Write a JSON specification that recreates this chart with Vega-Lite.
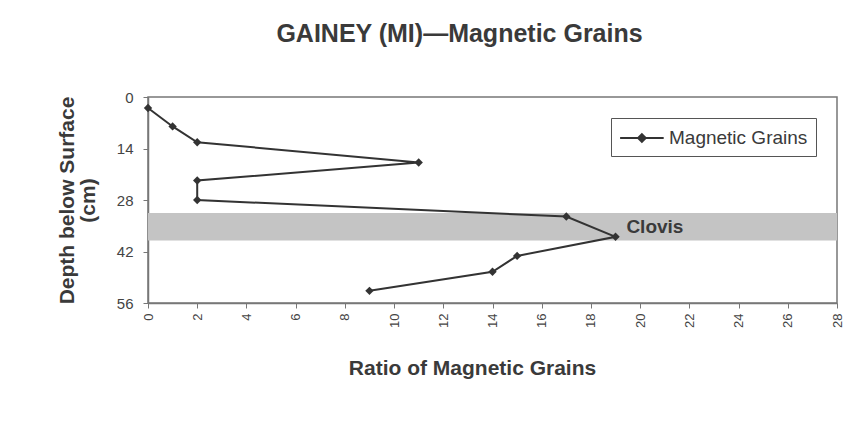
{
  "$schema": "https://vega.github.io/schema/vega-lite/v6.json",
  "width": 689,
  "height": 206,
  "autosize": {"type": "none"},
  "padding": {"left": 148, "top": 97, "right": 17, "bottom": 127},
  "background": "white",
  "title": {
    "text": "GAINEY (MI)\u2014Magnetic Grains",
    "font": "Liberation Sans",
    "fontSize": 25,
    "fontWeight": "bold",
    "color": "#3a3a3a",
    "anchor": "middle",
    "dx": -33,
    "offset": 43
  },
  "config": {
    "view": {"stroke": "#777", "strokeWidth": 1.5},
    "font": "Liberation Sans",
    "axis": {
      "grid": false,
      "domainColor": "#777",
      "tickColor": "#777",
      "labelColor": "#444",
      "titleColor": "#3a3a3a",
      "labelFont": "Liberation Sans",
      "titleFont": "Liberation Sans",
      "labelFontSize": 14,
      "titleFontSize": 21,
      "titleFontWeight": "bold",
      "tickSize": 5,
      "domainWidth": 1.5
    }
  },
  "datasets": {
    "grains": [
      {"order": 1, "ratio": 0, "depth": 3, "series": "Magnetic Grains"},
      {"order": 2, "ratio": 1, "depth": 8, "series": "Magnetic Grains"},
      {"order": 3, "ratio": 2, "depth": 12.3, "series": "Magnetic Grains"},
      {"order": 4, "ratio": 11, "depth": 17.8, "series": "Magnetic Grains"},
      {"order": 5, "ratio": 2, "depth": 22.7, "series": "Magnetic Grains"},
      {"order": 6, "ratio": 2, "depth": 28, "series": "Magnetic Grains"},
      {"order": 7, "ratio": 17, "depth": 32.5, "series": "Magnetic Grains"},
      {"order": 8, "ratio": 19, "depth": 38, "series": "Magnetic Grains"},
      {"order": 9, "ratio": 15, "depth": 43.2, "series": "Magnetic Grains"},
      {"order": 10, "ratio": 14, "depth": 47.5, "series": "Magnetic Grains"},
      {"order": 11, "ratio": 9, "depth": 52.7, "series": "Magnetic Grains"}
    ],
    "band": [
      {"x0": 0, "x1": 28, "top": 31.5, "bottom": 39, "label": "Clovis", "lx": 20.6, "ly": 35.3}
    ]
  },
  "layer": [
    {
      "data": {"name": "band"},
      "mark": {"type": "rect", "color": "#c4c4c4", "opacity": 1},
      "encoding": {
        "x": {"field": "x0", "type": "quantitative", "scale": {"domain": [0, 28], "nice": false, "zero": true}},
        "x2": {"field": "x1"},
        "y": {"field": "top", "type": "quantitative", "scale": {"domain": [0, 56], "reverse": true, "nice": false}},
        "y2": {"field": "bottom"}
      }
    },
    {
      "data": {"name": "band"},
      "mark": {"type": "text", "font": "Liberation Sans", "fontSize": 19, "fontWeight": "bold", "color": "#3a3a3a"},
      "encoding": {
        "x": {"field": "lx", "type": "quantitative"},
        "y": {"field": "ly", "type": "quantitative"},
        "text": {"field": "label"}
      }
    },
    {
      "data": {"name": "grains"},
      "mark": {"type": "line", "strokeWidth": 2, "point": {"shape": "diamond", "size": 70, "filled": true, "opacity": 1}},
      "encoding": {
        "x": {
          "field": "ratio", "type": "quantitative",
          "scale": {"domain": [0, 28], "nice": false},
          "axis": {"values": [0,2,4,6,8,10,12,14,16,18,20,22,24,26,28], "labelAngle": 270, "labelAlign": "right", "labelBaseline": "middle", "labelPadding": 5, "labelFontSize": 13, "title": "Ratio of Magnetic Grains", "titlePadding": 30, "titleX": 324}
        },
        "y": {
          "field": "depth", "type": "quantitative",
          "scale": {"domain": [0, 56], "reverse": true, "nice": false},
          "axis": {"values": [0, 14, 28, 42, 56], "labelPadding": 10, "labelFontSize": 15, "title": ["Depth below Surface", "(cm)"], "titlePadding": 18, "titleLineHeight": 21}
        },
        "order": {"field": "order", "type": "quantitative"},
        "color": {
          "field": "series", "type": "nominal",
          "scale": {"range": ["#333333"]},
          "legend": {
            "title": null,
            "orient": "top-right",
            "offset": 21,
            "strokeColor": "#555",
            "padding": 8,
            "labelFont": "Liberation Sans",
            "labelFontSize": 19,
            "labelColor": "#3a3a3a",
            "labelOffset": 26,
            "symbolType": "M -1 0 L 3 0 M 1 -0.35 L 1.35 0 L 1 0.35 L 0.65 0 Z",
            "symbolSize": 475,
            "symbolStrokeWidth": 2,
            "symbolFillColor": "#333333",
            "symbolStrokeColor": "#333333"
          }
        }
      }
    }
  ]
}
